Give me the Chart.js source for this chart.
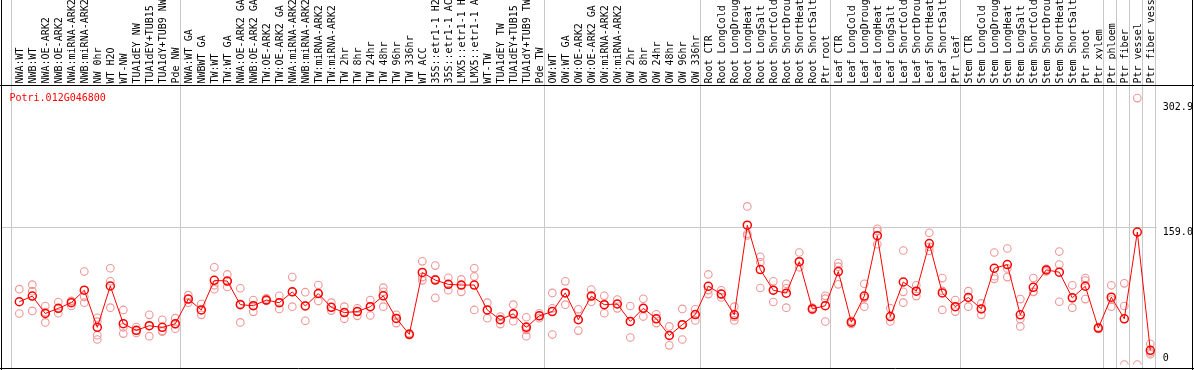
<!DOCTYPE html>
<html>
<head>
<meta charset="utf-8">
<script src="https://cdn.jsdelivr.net/npm/chart.js@4.4.1/dist/chart.umd.min.js"></script>
<style>
  html, body { margin: 0; padding: 0; background: #ffffff; }
  #wrap { width: 1194px; height: 370px; }
</style>
</head>
<body>
<div id="wrap"><canvas id="c" width="1194" height="370"></canvas></div>
<script>
const categories = [
  'NWA:WT','NWB:WT','NWA:OE-ARK2','NWB:OE-ARK2','NWA:miRNA-ARK2','NWB:miRNA-ARK2','NW 0hr','WT H2O','WT-NW',
  'TUA1dEY NW','TUA1dEY+TUB15 NW','TUA1dY+TUB9 NW','Pde NW',
  'NWA:WT GA','NWBWT GA','TW:WT','TW:WT GA','NWA:OE-ARK2 GA','NWB:OE-ARK2 GA','TW:OE-ARK2','TW:OE-ARK2 GA',
  'NWA:miRNA-ARK2 GA','NWB:miRNA-ARK2 GA','TW:miRNA-ARK2','TW:miRNA-ARK2','TW 2hr','TW 8hr','TW 24hr','TW 48hr',
  'TW 96hr','TW 336hr','WT ACC','35S::etr1-1 H2O','35S::etr1-1 ACC','LMX5::etr1-1 H2O','LMX5::etr1-1 ACC',
  'WT-TW','TUA1dEY TW','TUA1dEY+TUB15 TW','TUA1dY+TUB9 TW','Pde TW',
  'OW:WT','OW:WT GA','OW:OE-ARK2','OW:OE-ARK2 GA','OW:miRNA-ARK2','OW:miRNA-ARK2','OW 2hr','OW 8hr','OW 24hr',
  'OW 48hr','OW 96hr','OW 336hr',
  'Root CTR','Root LongCold','Root LongDrought','Root LongHeat','Root LongSalt','Root ShortCold','Root ShortDrought',
  'Root ShortHeat','Root ShortSalt','Ptr root',
  'Leaf CTR','Leaf LongCold','Leaf LongDrought','Leaf LongHeat','Leaf LongSalt','Leaf ShortCold','Leaf ShortDrought',
  'Leaf ShortHeat','Leaf ShortSalt','Ptr leaf',
  'Stem CTR','Stem LongCold','Stem LongDrought','Stem LongHeat','Stem LongSalt','Stem ShortCold','Stem ShortDrought',
  'Stem ShortHeat','Stem ShortSalt','Ptr shoot','Ptr xylem',
  'Ptr phloem','Ptr fiber','Ptr vessel','Ptr fiber vessel'
];

const means = [
  72.5, 79.0, 58.9, 64.9, 71.4, 85.8, 42.9, 90.7, 47.1, 39.5, 44.8, 42.9, 47.1,
  75.6, 63.0, 97.2, 96.4, 69.1, 67.9, 74.4, 71.4, 83.9, 67.6, 81.9, 66.0, 60.0, 61.1, 66.8, 79.3,
  53.2, 34.9, 106.3, 97.5, 92.6, 91.8, 91.8, 63.0, 51.7, 58.5, 42.9, 56.2,
  61.1, 82.7, 51.7, 79.0, 69.1, 69.9, 49.7, 64.9, 52.8, 33.5, 46.0, 57.7,
  90.4, 81.3, 57.4, 160.9, 109.7, 85.8, 82.4, 118.8, 64.2, 67.9,
  107.4, 48.9, 79.0, 148.8, 55.4, 95.3, 84.7, 139.7, 82.7, 66.8,
  77.4, 64.2, 111.2, 115.4, 57.4, 89.2, 109.3, 106.6, 77.0, 90.4, 42.1,
  77.8, 52.8, 153.0, 16.4
];

const replicates = [
  [87.0, 58.9], [92.2, 84.7, 61.9], [67.6, 48.6, 60.5], [72.2, 59.2, 64.9], [73.6, 67.6, 73.0],
  [107.4, 71.4, 78.2], [54.0, 49.5, 33.8, 28.9], [111.2, 96.1, 65.7], [63.0, 43.0, 35.7], [43.3, 39.0, 36.4],
  [57.4, 44.5, 32.7], [51.7, 39.0, 38.0], [53.5, 46.4, 41.4],
  [80.1, 75.6, 71.4], [69.9, 63.0, 57.4], [112.3, 91.5, 87.0], [104.0, 96.0, 89.6], [88.1, 70.0, 48.6],
  [74.4, 68.0, 60.8], [76.3, 74.4, 73.6], [79.3, 71.4, 64.2], [101.0, 84.0, 66.8], [83.5, 68.0, 50.5],
  [91.8, 81.9, 73.3], [71.4, 66.0, 62.3], [66.8, 60.0, 52.8], [64.9, 61.1, 56.2], [74.4, 66.8, 56.6],
  [88.8, 83.9, 66.8], [57.4, 53.2, 47.8], [36.0, 34.9, 33.8], [119.2, 101.0, 97.2], [114.3, 98.6, 77.0],
  [100.2, 92.6, 85.8], [98.3, 91.8, 83.9], [111.2, 101.7, 63.0], [71.4, 63.0, 53.5], [55.4, 51.7, 46.7],
  [69.1, 58.5, 50.1], [54.6, 44.0, 40.0, 32.7], [59.2, 56.2, 53.5],
  [82.7, 64.9, 34.6], [96.1, 82.7, 69.1], [63.7, 51.7, 39.2], [86.5, 79.0, 72.5], [79.3, 69.1, 59.2],
  [75.1, 69.9, 64.9], [67.6, 49.7, 31.2], [75.9, 64.9, 55.4], [58.0, 52.8, 47.8], [44.0, 33.5, 22.1],
  [64.2, 46.0, 28.9], [63.7, 57.7, 50.9],
  [104.0, 86.0, 81.3], [85.8, 81.3, 77.4], [66.8, 55.0, 50.9], [182.6, 151.0, 149.0], [124.5, 118.0, 88.4],
  [96.1, 85.8, 72.2], [93.3, 88.0, 65.7], [129.4, 118.8, 112.3], [65.7, 64.2, 63.0], [79.3, 76.0, 49.7],
  [117.2, 113.0, 92.6], [50.4, 48.9, 47.0], [93.3, 77.0, 66.8], [156.7, 154.1, 138.9], [64.9, 55.4, 49.7],
  [131.7, 83.9, 71.4], [91.5, 84.7, 79.0], [152.2, 136.0, 131.3], [99.8, 85.0, 63.0], [74.4, 66.8, 61.1],
  [84.7, 77.4, 66.8], [70.6, 64.2, 57.4], [129.4, 102.0, 99.0], [134.0, 111.0, 101.0], [75.6, 52.6, 44.0],
  [99.8, 84.0, 83.9], [110.5, 109.3, 107.5], [130.5, 115.4, 72.5], [91.5, 77.0, 65.7], [99.8, 97.0, 75.6],
  [43.0, 42.1, 41.0],
  [91.5, 75.0, 66.8], [93.8, 67.6, 0], [307.8, 0], [23.9, 14.0, 11.8]
];

const yTickValues = [0, 159.0, 302.9];
const yTickLabels = ['0', '159.0', '302.9'];
const geneId = 'Potri.012G046800';
const groupEnds = [12, 40, 52, 62, 72, 83, 84, 85, 86, 87];

const FONT = "'DejaVu Sans Mono', 'Liberation Mono', monospace";
const W = 1194, H = 370;
const plotTop = 85.5, plotBottom = 368.7, plotLeft = 12.8, plotRight = 1156.8;

const meanPoints = means.map((v, i) => ({ x: i, y: v }));
const repPoints = [];
replicates.forEach((arr, i) => arr.forEach(v => repPoints.push({ x: i, y: v })));

const deco = {
  id: 'deco',
  beforeDatasetsDraw(chart) {
    const ctx = chart.ctx, xs = chart.scales.x, ys = chart.scales.y;
    ctx.save();
    ctx.strokeStyle = '#c8c8c8';
    ctx.lineWidth = 1;
    const gy = Math.round(ys.getPixelForValue(yTickValues[1])) + 0.5;
    ctx.beginPath(); ctx.moveTo(1, gy); ctx.lineTo(plotRight, gy); ctx.stroke();
    const xsList = [xs.getPixelForValue(0) - 8.6].concat(groupEnds.map(i => xs.getPixelForValue(i) + 5));
    xsList.forEach(px => {
      const x = Math.round(px) + 0.5;
      ctx.beginPath(); ctx.moveTo(x, 0); ctx.lineTo(x, plotBottom); ctx.stroke();
    });
    ctx.restore();
  },
  afterDraw(chart) {
    const ctx = chart.ctx, ys = chart.scales.y, area = chart.chartArea;
    ctx.save();
    ctx.strokeStyle = '#000';
    ctx.lineWidth = 1;
    ctx.beginPath();
    ctx.moveTo(1.5, 0); ctx.lineTo(1.5, H);
    ctx.moveTo(0, 85.5); ctx.lineTo(W, 85.5);
    ctx.moveTo(0, 368.5); ctx.lineTo(W, 368.5);
    ctx.moveTo(1192.5, 0); ctx.lineTo(1192.5, H);
    ctx.stroke();
    ctx.font = '10px ' + FONT;
    ctx.fillStyle = '#ff0000';
    ctx.textBaseline = 'alphabetic';
    ctx.textAlign = 'left';
    ctx.fillText(geneId, 9.5, 101);
    ctx.fillStyle = '#000';
    yTickValues.forEach((v, k) => {
      const py = ys.getPixelForValue(v);
      const base = v === 0 ? py - 3.5 : py + 8;
      ctx.fillText(yTickLabels[k], area.right + 6, base);
    });
    ctx.restore();
  }
};

new Chart(document.getElementById('c'), {
  type: 'line',
  data: {
    datasets: [
      {
        label: 'mean',
        data: meanPoints,
        borderColor: '#ff0000',
        borderWidth: 1,
        pointRadius: 4,
        pointBorderWidth: 1.5,
        pointBorderColor: '#ff0000',
        pointBackgroundColor: 'rgba(255,255,255,0)',
        tension: 0,
        order: 1
      },
      {
        label: 'replicates',
        data: repPoints,
        showLine: false,
        pointRadius: 3.8,
        pointBorderWidth: 1.1,
        pointBorderColor: 'rgb(240,150,150)',
        pointBackgroundColor: 'rgba(255,255,255,0)',
        order: 2
      }
    ]
  },
  options: {
    responsive: false,
    animation: false,
    devicePixelRatio: 1,
    layout: { padding: { left: plotLeft, right: 0, top: 0, bottom: H - plotBottom } },
    plugins: { legend: { display: false }, tooltip: { enabled: false } },
    scales: {
      x: {
        type: 'linear',
        position: 'top',
        min: -0.5,
        max: categories.length - 0.5,
        afterBuildTicks: s => { s.ticks = categories.map((_, i) => ({ value: i })); },
        afterFit: s => { s.height = plotTop; },
        grid: { display: false, drawTicks: false },
        border: { display: false },
        ticks: {
          autoSkip: false,
          minRotation: 90,
          maxRotation: 90,
          padding: 2,
          labelOffset: 13,
          color: '#000',
          font: { family: FONT, size: 10 },
          callback: v => categories[v]
        }
      },
      y: {
        type: 'linear',
        position: 'right',
        min: 0,
        max: 322.3,
        afterBuildTicks: s => { s.ticks = yTickValues.map(v => ({ value: v })); },
        afterFit: s => { s.width = W - plotRight; },
        grid: { display: false },
        border: { display: false },
        ticks: { display: false }
      }
    }
  },
  plugins: [deco]
});
</script>
</body>
</html>
